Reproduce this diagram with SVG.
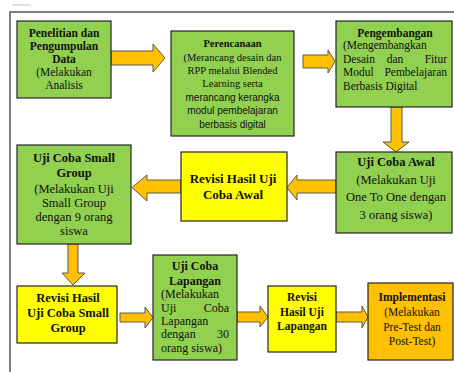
<svg xmlns="http://www.w3.org/2000/svg" width="454" height="372" viewBox="0 0 454 372">
<style>
.g{fill:#92D050;stroke:#262626;stroke-width:1.2}
.y{fill:#FFFF00;stroke:#262626;stroke-width:1.2}
.o{fill:#FFC000;stroke:#262626;stroke-width:1.2}
.ar{fill:#FFC000;stroke:#5a5a4a;stroke-width:1}
.t{font-family:'Liberation Serif','DejaVu Serif',serif;font-size:11.5px;fill:#111}
.b{font-weight:bold}
.c{text-anchor:middle}
.e{text-anchor:end}
.s{font-family:'Liberation Sans',Arial,sans-serif;font-size:10px}
</style>
<rect width="454" height="372" fill="#fff"/>
<g id="frame" fill="none">
<line x1="12" y1="5" x2="31" y2="5" stroke="#c0c0c0" stroke-width="1"/>
<polyline points="454,12 10,12 10,372" stroke="#7f7f7f" stroke-width="2"/>
</g>
<g id="connectors">
<polygon class="ar" points="111,51 153,51 153,44 165,58 153,72 153,65 111,65"/>
<polygon class="ar" points="303,55 328,55 328,50 335,61.5 328,73 328,68 303,68"/>
<polygon class="ar" points="391,107 402,107 402,142 409,142 396,152 383,142 391,142"/>
<polygon class="ar" points="336,180 297,180 297,175 287,187.5 297,200 297,193 336,193"/>
<polygon class="ar" points="181,180 147,180 147,175 132,187.5 147,201 147,193 181,193"/>
<polygon class="ar" points="68,244 78,244 78,273 85,273 73,285 62,273 68,273"/>
<polygon class="ar" points="120,313 145,313 145,307 153,317.5 145,328 145,322 120,322"/>
<polygon class="ar" points="237,312 260,312 260,306 268,317 260,327 260,322 237,322"/>
<polygon class="ar" points="336,312 362,312 362,306 368,317 362,328 362,322 336,322"/>
</g>
<g class="t" font-family="Liberation Serif, DejaVu Serif, serif">
<g id="n1">
<rect class="g" x="17" y="21" width="94" height="77"/>
<text class="c"><tspan class="b" x="64" y="37">Penelitian dan</tspan><tspan class="b" x="64" y="50">Pengumpulan</tspan><tspan class="b" x="64" y="63">Data</tspan><tspan x="64" y="76">(Melakukan</tspan><tspan x="64" y="89">Analisis</tspan></text>
</g>
<g id="n2">
<rect class="g" x="171" y="31" width="123" height="105"/>
<text class="c" font-size="10.5"><tspan class="b" x="232.5" y="47">Perencanaan</tspan><tspan x="232.5" y="61">(Merancang  desain dan</tspan><tspan x="232.5" y="74">RPP melalui Blended</tspan><tspan x="232.5" y="87">Learning serta</tspan></text>
<text class="c s" font-family="Liberation Sans, Arial, sans-serif"><tspan x="232.5" y="101">merancang kerangka</tspan><tspan x="232.5" y="114">modul pembelajaran</tspan><tspan x="232.5" y="128">berbasis digital</tspan></text>
</g>
<g id="n3">
<rect class="g" x="336" y="21" width="116" height="86"/>
<text class="b c" x="395" y="37">Pengembangan</text>
<text x="343" y="49">(Mengembangkan</text>
<text x="343" y="63">Desain</text><text class="c" x="395" y="63">dan</text><text class="e" x="447" y="63">Fitur</text>
<text x="343" y="76">Modul</text><text class="e" x="447" y="76">Pembelajaran</text>
<text x="343" y="90">Berbasis Digital</text>
</g>
<g id="n4">
<rect class="g" x="336" y="152" width="116" height="81"/>
<text class="c" font-size="12.5"><tspan class="b" x="396" y="166">Uji Coba Awal</tspan><tspan x="396" y="184">(Melakukan Uji</tspan><tspan x="396" y="201">One To One dengan</tspan><tspan x="396" y="219">3 orang siswa)</tspan></text>
</g>
<g id="n5">
<rect class="y" x="181" y="152" width="106" height="69"/>
<text class="b c" font-size="13"><tspan x="233" y="183">Revisi Hasil Uji</tspan><tspan x="233" y="199">Coba Awal</tspan></text>
</g>
<g id="n6">
<rect class="g" x="17" y="145" width="114" height="99"/>
<text class="c" font-size="12.5"><tspan class="b" x="74" y="162">Uji Coba Small</tspan><tspan class="b" x="74" y="177">Group</tspan><tspan x="74" y="193">(Melakukan Uji</tspan><tspan x="74" y="207">Small Group</tspan><tspan x="74" y="221">dengan 9 orang</tspan><tspan x="74" y="235">siswa</tspan></text>
</g>
<g id="n7">
<rect class="y" x="17" y="286" width="100" height="57"/>
<text class="b c" font-size="12.5"><tspan x="68" y="302">Revisi Hasil</tspan><tspan x="68" y="317">Uji Coba Small</tspan><tspan x="68" y="332">Group</tspan></text>
</g>
<g id="n8" font-size="12">
<rect class="g" x="153" y="255" width="84" height="105"/>
<text class="b c"><tspan x="195" y="270">Uji Coba</tspan><tspan x="195" y="285">Lapangan</tspan></text>
<text x="161" y="298">(Melakukan</text>
<text x="161" y="312">Uji</text><text class="e" x="229" y="312">Coba</text>
<text x="161" y="325">Lapangan</text>
<text x="161" y="338">dengan</text><text class="e" x="229" y="338">30</text>
<text x="161" y="352">orang siswa)</text>
</g>
<g id="n9">
<rect class="y" x="268" y="286" width="68" height="66"/>
<text class="b c"><tspan x="302" y="301">Revisi</tspan><tspan x="302" y="316">Hasil Uji</tspan><tspan x="302" y="330">Lapangan</tspan></text>
</g>
<g id="n10">
<rect class="o" x="368" y="283" width="85" height="77"/>
<text class="c"><tspan class="b" x="412" y="301">Implementasi</tspan><tspan x="412" y="316">(Melakukan</tspan><tspan x="412" y="331">Pre-Test dan</tspan><tspan x="412" y="345">Post-Test)</tspan></text>
</g>
</g>
</svg>
